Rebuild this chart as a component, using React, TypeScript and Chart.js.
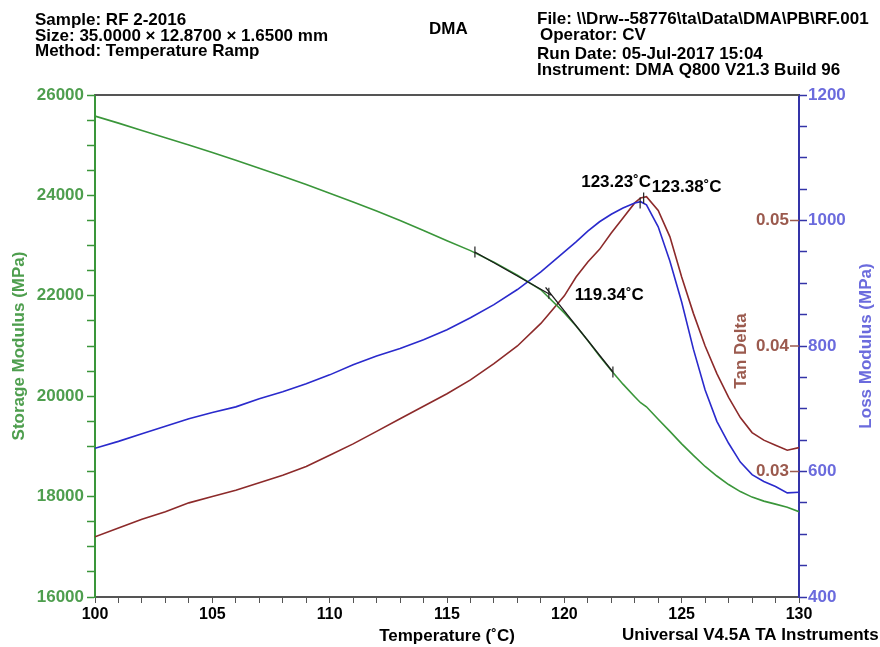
import React, { useEffect, useRef } from "react";
import { Chart, registerables } from "chart.js";

Chart.register(...registerables);

// ---------- data ----------
const temperatures = [
  100, 101, 102, 103, 104, 105, 106, 107, 108, 109, 110, 111, 112, 113, 114, 115, 116, 117, 118, 119, 120,
  120.5, 121, 121.5, 122, 122.5, 123, 123.25, 123.5, 124, 124.5, 125, 125.5, 126, 126.5, 127, 127.5, 128,
  128.5, 129, 129.5, 130,
];
const storageModulus = [
  25580, 25440, 25295, 25150, 25005, 24855, 24700, 24540, 24380, 24215, 24045, 23870, 23690, 23500, 23300,
  23095, 22900, 22670, 22410, 22120, 21660, 21400, 21110, 20800, 20510, 20240, 19990, 19870, 19790, 19540,
  19300, 19050, 18820, 18600, 18410, 18240, 18100, 17990, 17910, 17850, 17790, 17700,
];
const lossModulus = [
  637, 648, 660, 672, 684, 694, 703, 716, 727, 740, 754, 770, 784, 796, 810, 826, 845, 866, 890, 918, 950,
  966, 983, 998, 1010, 1020, 1028, 1030, 1025, 990, 935, 870, 795, 730, 680, 645, 615, 595, 584, 576, 566, 567,
];
const tanDelta = [
  0.0248, 0.0255, 0.0262, 0.0268, 0.0275, 0.028, 0.0285, 0.0291, 0.0297, 0.0304, 0.0313, 0.0322, 0.0332,
  0.0342, 0.0352, 0.0362, 0.0373, 0.0386, 0.04, 0.0418, 0.044, 0.0455, 0.0467, 0.0477, 0.049, 0.0502, 0.0514,
  0.0518, 0.0519, 0.0508, 0.0487, 0.0455, 0.0426, 0.04, 0.0378, 0.0359, 0.0343, 0.0331, 0.0325, 0.0321,
  0.0317, 0.0319,
];

// onset tangents on storage modulus
const tangent1Temps = [116.19, 119.45];
const tangent1Values = [22873, 22010];
const tangent2Temps = [119.2, 122.07];
const tangent2Values = [22168, 20482];
const onsetMarkTemps = [116.19, 119.34, 122.07];
const onsetMarkValues = [22873, 22050, 20482];
const lossPeakTemp = 123.23;
const lossPeakValue = 1028;
const tanPeakTemp = 123.38;
const tanPeakValue = 0.0518;

const onsetLabel = "119.34˚C";
const lossPeakLabel = "123.23˚C";
const tanPeakLabel = "123.38˚C";

const xTicks = [100, 101, 102, 103, 104, 105, 106, 107, 108, 109, 110, 111, 112, 113, 114, 115, 116, 117, 118, 119, 120, 121, 122, 123, 124, 125, 126, 127, 128, 129, 130];
const xLabeled = [100, 105, 110, 115, 120, 125, 130];
const storageLabeled = [16000, 18000, 20000, 22000, 24000, 26000];
const lossLabeled = [400, 600, 800, 1000, 1200];
const tanTicks = [0.03, 0.04, 0.05];

const headerLeft = ["Sample: RF 2-2016", "Size: 35.0000 × 12.8700 × 1.6500 mm", "Method: Temperature Ramp"];
const headerCenter = "DMA";
const headerRight = [
  "File: \\\\Drw--58776\\ta\\Data\\DMA\\PB\\RF.001",
  "Operator: CV",
  "Run Date: 05-Jul-2017 15:04",
  "Instrument: DMA Q800 V21.3 Build 96",
];
const footer = "Universal V4.5A TA Instruments";

// ---------- styles ----------
const FONT = '"Liberation Sans", Arial, Helvetica, sans-serif';
const GREEN = "#3A963A";
const GREEN_TXT = "#4E9E4E";
const BLUE = "#2A2ACC";
const BLUE_AXIS = "#3434A8";
const BLUE_TXT = "#6B6BDD";
const RED = "#8C2A2A";
const RED_TXT = "#9B5A4E";

const pts = (xs: number[], ys: number[]) => xs.map((x, i) => ({ x, y: ys[i] }));

const textPlugin = {
  id: "dmaTexts",
  afterDraw(chart: any) {
    const ctx = chart.ctx;
    const ca = chart.chartArea;
    const xs = chart.scales.x;
    const ys = chart.scales.yS;
    const yl = chart.scales.yL;
    const yt = chart.scales.yT;
    ctx.save();
    // top frame line
    ctx.strokeStyle = "#555";
    ctx.lineWidth = 2;
    ctx.beginPath();
    ctx.moveTo(ca.left, ca.top);
    ctx.lineTo(ca.right, ca.top);
    ctx.stroke();

    ctx.font = `bold 17px ${FONT}`;
    ctx.fillStyle = "#000";
    ctx.textBaseline = "alphabetic";
    ctx.textAlign = "left";
    const lb = [25, 41, 56];
    headerLeft.forEach((t, i) => ctx.fillText(t, 35, lb[i]));
    ctx.fillText(headerCenter, 429, 34);
    const rb = [23.5, 39.5, 59, 75];
    const rx = [537, 540, 537, 537];
    headerRight.forEach((t, i) => ctx.fillText(t, rx[i], rb[i]));
    ctx.fillText(footer, 622, 640);

    // annotations
    const bx = xs.getPixelForValue(lossPeakTemp);
    const by = yl.getPixelForValue(lossPeakValue);
    ctx.textAlign = "right";
    ctx.fillText(lossPeakLabel, bx + 11, by - 16);
    const tx = xs.getPixelForValue(tanPeakTemp);
    const ty = yt.getPixelForValue(tanPeakValue);
    ctx.textAlign = "left";
    ctx.fillText(tanPeakLabel, tx + 8, ty - 6);
    const ox = xs.getPixelForValue(onsetMarkTemps[1]);
    const oy = ys.getPixelForValue(onsetMarkValues[1]);
    ctx.fillText(onsetLabel, ox + 26, oy + 7);

    // brown tan-delta tick marks (left of the right axis)
    ctx.strokeStyle = RED_TXT;
    ctx.lineWidth = 1.5;
    tanTicks.forEach((v) => {
      const y = yt.getPixelForValue(v);
      ctx.beginPath();
      ctx.moveTo(ca.right - 9, y);
      ctx.lineTo(ca.right, y);
      ctx.stroke();
    });

    // rotated titles
    ctx.textAlign = "center";
    ctx.textBaseline = "middle";
    ctx.save();
    ctx.translate(866, (ca.top + ca.bottom) / 2);
    ctx.rotate(-Math.PI / 2);
    ctx.fillStyle = BLUE_TXT;
    ctx.fillText("Loss Modulus (MPa)", 0, 0);
    ctx.restore();
    ctx.save();
    ctx.translate(ca.right - 58, (ca.top + ca.bottom) / 2 + 5);
    ctx.rotate(-Math.PI / 2);
    ctx.fillStyle = RED_TXT;
    ctx.fillText("Tan Delta", 0, 0);
    ctx.restore();
    ctx.restore();
  },
};

export default function App() {
  const ref = useRef<HTMLCanvasElement | null>(null);
  useEffect(() => {
    if (!ref.current) return;
    const markerBase = {
      showLine: false,
      pointStyle: "line",
      rotation: 90,
      pointRadius: 5.5,
      pointHoverRadius: 5.5,
      pointBorderWidth: 1.2,
      borderColor: "#222",
      pointBorderColor: "#222",
    };
    const chart = new Chart(ref.current, {
      type: "line",
      data: {
        datasets: [
          { ...markerBase, label: "onset marks", data: pts(onsetMarkTemps, onsetMarkValues), yAxisID: "yS" } as any,
          { ...markerBase, label: "loss peak", data: [{ x: lossPeakTemp, y: lossPeakValue }], yAxisID: "yL" } as any,
          { ...markerBase, label: "tan peak", data: [{ x: tanPeakTemp, y: tanPeakValue }], yAxisID: "yT" } as any,
          { label: "tangent 1", data: pts(tangent1Temps, tangent1Values), yAxisID: "yS", borderColor: "#1A1A1A", borderWidth: 1.3, pointRadius: 0 },
          { label: "tangent 2", data: pts(tangent2Temps, tangent2Values), yAxisID: "yS", borderColor: "#1A1A1A", borderWidth: 1.3, pointRadius: 0 },
          { label: "Storage Modulus", data: pts(temperatures, storageModulus), yAxisID: "yS", borderColor: GREEN, borderWidth: 1.6, pointRadius: 0 },
          { label: "Loss Modulus", data: pts(temperatures, lossModulus), yAxisID: "yL", borderColor: BLUE, borderWidth: 1.6, pointRadius: 0 },
          { label: "Tan Delta", data: pts(temperatures, tanDelta), yAxisID: "yT", borderColor: RED, borderWidth: 1.6, pointRadius: 0 },
        ],
      },
      options: {
        animation: false,
        responsive: false,
        devicePixelRatio: 1,
        events: [],
        layout: { padding: { top: 95, left: 0, right: 0, bottom: 0 } },
        plugins: { legend: { display: false }, tooltip: { enabled: false } },
        elements: { line: { tension: 0 } },
        scales: {
          x: {
            type: "linear",
            min: 100,
            max: 130,
            afterBuildTicks: (s: any) => {
              s.ticks = xTicks.map((v) => ({ value: v }));
            },
            ticks: {
              autoSkip: false,
              maxRotation: 0,
              minRotation: 0,
              padding: 2,
              color: "#000",
              font: { family: FONT, size: 16, weight: "bold" },
              callback: (v: any) => (xLabeled.includes(Number(v)) ? String(v) : ""),
            },
            grid: { drawOnChartArea: false, tickLength: 6, tickColor: "#555", tickWidth: 1 },
            border: { color: "#555", width: 2 },
            title: {
              display: true,
              text: "Temperature (˚C)",
              color: "#000",
              font: { family: FONT, size: 17, weight: "bold" },
              padding: { top: 0, bottom: 0 },
            },
            afterFit: (s: any) => {
              s.height = 50;
            },
          },
          yS: {
            type: "linear",
            position: "left",
            min: 16000,
            max: 26000,
            afterBuildTicks: (s: any) => {
              const t = [];
              for (let v = 16000; v <= 26000; v += 500) t.push({ value: v });
              s.ticks = t;
            },
            ticks: {
              autoSkip: false,
              padding: 3,
              color: GREEN_TXT,
              font: { family: FONT, size: 17, weight: "bold" },
              callback: (v: any) => (storageLabeled.includes(Number(v)) ? String(v) : ""),
            },
            grid: { drawOnChartArea: false, tickLength: 8, tickColor: GREEN, tickWidth: 1.5 },
            border: { color: GREEN, width: 2 },
            title: {
              display: true,
              text: "Storage Modulus (MPa)",
              color: GREEN_TXT,
              font: { family: FONT, size: 17, weight: "bold" },
              padding: { top: 9, bottom: 0 },
            },
            afterFit: (s: any) => {
              s.width = 95;
            },
          },
          yT: {
            type: "linear",
            position: "right",
            weight: 0,
            min: 0.02,
            max: 0.06,
            afterBuildTicks: (s: any) => {
              s.ticks = tanTicks.map((v) => ({ value: v }));
            },
            ticks: {
              mirror: true,
              padding: -10,
              color: RED_TXT,
              font: { family: FONT, size: 17, weight: "bold" },
              callback: (v: any) => Number(v).toFixed(2),
            },
            grid: { drawOnChartArea: false, drawTicks: false },
            border: { display: false },
            afterFit: (s: any) => {
              s.width = 0;
            },
          },
          yL: {
            type: "linear",
            position: "right",
            weight: 1,
            min: 400,
            max: 1200,
            afterBuildTicks: (s: any) => {
              const t = [];
              for (let v = 400; v <= 1200; v += 50) t.push({ value: v });
              s.ticks = t;
            },
            ticks: {
              autoSkip: false,
              padding: 1,
              color: BLUE_TXT,
              font: { family: FONT, size: 17, weight: "bold" },
              callback: (v: any) => (lossLabeled.includes(Number(v)) ? String(v) : ""),
            },
            grid: { drawOnChartArea: false, tickLength: 8, tickColor: BLUE_AXIS, tickWidth: 1.5 },
            border: { color: BLUE_AXIS, width: 2 },
            afterFit: (s: any) => {
              s.width = 81;
            },
          },
        },
      } as any,
      plugins: [textPlugin],
    });
    return () => chart.destroy();
  }, []);
  return (
    <div style={{ position: "absolute", left: 0, top: 0, width: 880, height: 647, background: "#fff" }}>
      <canvas ref={ref} width={880} height={647} style={{ width: 880, height: 647 }} />
    </div>
  );
}
